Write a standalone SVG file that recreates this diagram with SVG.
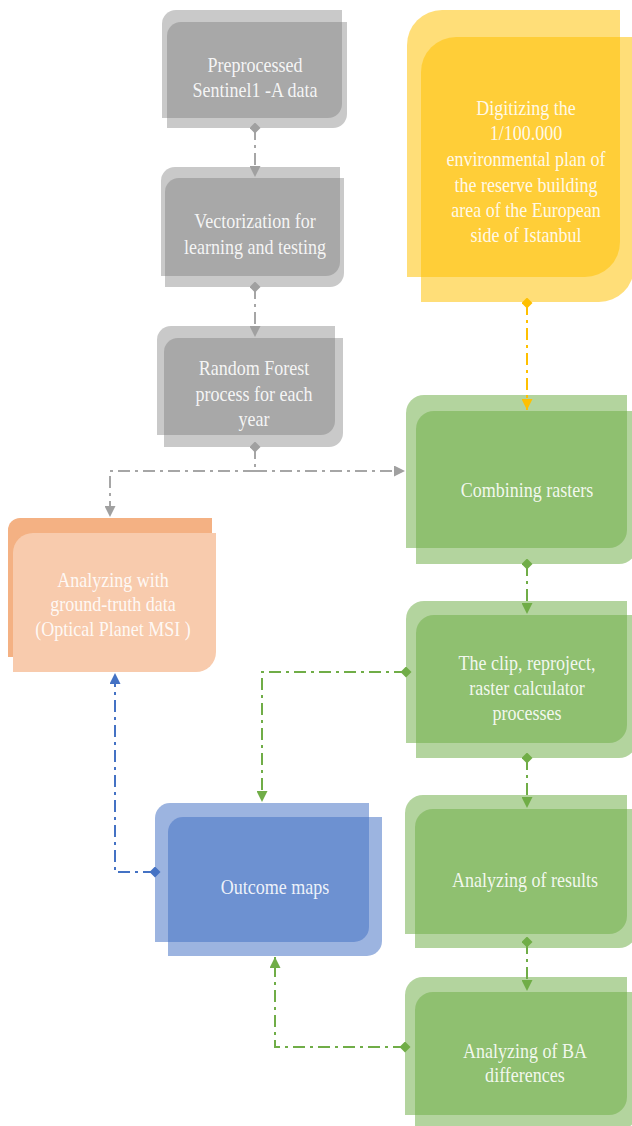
<svg xmlns="http://www.w3.org/2000/svg" width="632" height="1126" viewBox="0 0 632 1126">
<style>
.gray{fill:#787878;fill-opacity:0.4}
.green{fill:#70AD47;fill-opacity:0.53}
.blue{fill:#4472C4;fill-opacity:0.53}
.gold{fill:#FFC000;fill-opacity:0.53}
.orb{fill:#F4B183}
.orf{fill:#F8CBAD}
text{font-family:"Liberation Serif","Times New Roman",serif;font-size:22px;fill:#ffffff;fill-opacity:0.9;text-anchor:middle}
.c{fill:none;stroke-width:2;stroke-dasharray:12 5 3 5}
.cg{stroke:#a6a6a6}
.cgr{stroke:#70AD47}
.cb{stroke:#4472C4}
.cy{stroke:#FFC000}
</style>
<defs>
<marker id="ag" viewBox="0 0 10 10" refX="10" refY="5" markerWidth="11" markerHeight="11" markerUnits="userSpaceOnUse" orient="auto"><path d="M0,0 L10,5 L0,10 z" fill="#a0a0a0"/></marker>
<marker id="dg" viewBox="0 0 10 10" refX="5" refY="5" markerWidth="11" markerHeight="11" markerUnits="userSpaceOnUse" orient="auto"><path d="M0,5 L5,0 L10,5 L5,10 z" fill="#a0a0a0"/></marker>
<marker id="agr" viewBox="0 0 10 10" refX="10" refY="5" markerWidth="11" markerHeight="11" markerUnits="userSpaceOnUse" orient="auto"><path d="M0,0 L10,5 L0,10 z" fill="#70AD47"/></marker>
<marker id="dgr" viewBox="0 0 10 10" refX="5" refY="5" markerWidth="11" markerHeight="11" markerUnits="userSpaceOnUse" orient="auto"><path d="M0,5 L5,0 L10,5 L5,10 z" fill="#70AD47"/></marker>
<marker id="ab" viewBox="0 0 10 10" refX="10" refY="5" markerWidth="11" markerHeight="11" markerUnits="userSpaceOnUse" orient="auto"><path d="M0,0 L10,5 L0,10 z" fill="#4472C4"/></marker>
<marker id="db" viewBox="0 0 10 10" refX="5" refY="5" markerWidth="11" markerHeight="11" markerUnits="userSpaceOnUse" orient="auto"><path d="M0,5 L5,0 L10,5 L5,10 z" fill="#4472C4"/></marker>
<marker id="ay" viewBox="0 0 10 10" refX="10" refY="5" markerWidth="11" markerHeight="11" markerUnits="userSpaceOnUse" orient="auto"><path d="M0,0 L10,5 L0,10 z" fill="#FFC000"/></marker>
<marker id="dy" viewBox="0 0 10 10" refX="5" refY="5" markerWidth="11" markerHeight="11" markerUnits="userSpaceOnUse" orient="auto"><path d="M0,5 L5,0 L10,5 L5,10 z" fill="#FFC000"/></marker>
</defs>
<rect width="632" height="1126" fill="#ffffff"/>

<g id="n-preprocessed">
<path class="gray" d="M176,10 H342 V104 A14,14 0 0 1 328,118 H162 V24 A14,14 0 0 1 176,10 Z"/>
<path class="gray" d="M181,22 H347 V114 A14,14 0 0 1 333,128 H167 V36 A14,14 0 0 1 181,22 Z"/>
<g transform="translate(255,0) scale(0.82,1)"><text x="0" y="72">Preprocessed</text><text x="0" y="97">Sentinel1 -A data</text></g>
</g>

<g id="n-vectorization">
<path class="gray" d="M175,167 H340 V262 A14,14 0 0 1 326,276 H161 V181 A14,14 0 0 1 175,167 Z"/>
<path class="gray" d="M179,178 H344 V273 A14,14 0 0 1 330,287 H165 V192 A14,14 0 0 1 179,178 Z"/>
<g transform="translate(255,0) scale(0.82,1)"><text x="0" y="228">Vectorization for</text><text x="0" y="254">learning and testing</text></g>
</g>

<g id="n-randomforest">
<path class="gray" d="M171,326 H335 V421 A14,14 0 0 1 321,435 H157 V340 A14,14 0 0 1 171,326 Z"/>
<path class="gray" d="M178,338 H343 V433 A14,14 0 0 1 329,447 H164 V352 A14,14 0 0 1 178,338 Z"/>
<g transform="translate(254,0) scale(0.82,1)"><text x="0" y="375">Random Forest</text><text x="0" y="401">process for each</text><text x="0" y="426">year</text></g>
</g>

<g id="n-digitizing">
<path class="gold" d="M442,10 H620 V242 A35,35 0 0 1 585,277 H407 V45 A35,35 0 0 1 442,10 Z"/>
<path class="gold" d="M456,37 H634 V267 A35,35 0 0 1 599,302 H421 V72 A35,35 0 0 1 456,37 Z"/>
<g transform="translate(526,0) scale(0.82,1)"><text x="0" y="115">Digitizing the</text><text x="0" y="140">1/100.000</text><text x="0" y="166">environmental plan of</text><text x="0" y="192">the reserve building</text><text x="0" y="217">area of the European</text><text x="0" y="242">side of Istanbul</text></g>
</g>

<g id="n-combining">
<path class="green" d="M424,395 H627 V530 A18,18 0 0 1 609,548 H406 V413 A18,18 0 0 1 424,395 Z"/>
<path class="green" d="M434,411 H637 V546 A18,18 0 0 1 619,564 H416 V429 A18,18 0 0 1 434,411 Z"/>
<g transform="translate(527,0) scale(0.82,1)"><text x="0" y="497">Combining rasters</text></g>
</g>

<g id="n-groundtruth">
<path class="orb" d="M20,518 H212 V657 H8 V530 A12,12 0 0 1 20,518 Z"/>
<path class="orf" d="M33,533 H216 V652 A20,20 0 0 1 196,672 H13 V553 A20,20 0 0 1 33,533 Z"/>
<g transform="translate(113,0) scale(0.82,1)"><text x="0" y="587">Analyzing with</text><text x="0" y="611">ground-truth data</text><text x="0" y="636">(Optical Planet MSI )</text></g>
</g>

<g id="n-clip">
<path class="green" d="M424,601 H627 V725 A18,18 0 0 1 609,743 H406 V619 A18,18 0 0 1 424,601 Z"/>
<path class="green" d="M434,615 H637 V740 A18,18 0 0 1 619,758 H416 V633 A18,18 0 0 1 434,615 Z"/>
<g transform="translate(527,0) scale(0.82,1)"><text x="0" y="670">The clip, reproject,</text><text x="0" y="695">raster calculator</text><text x="0" y="720">processes</text></g>
</g>

<g id="n-outcome">
<path class="blue" d="M170,803 H369 V927 A15,15 0 0 1 354,942 H155 V818 A15,15 0 0 1 170,803 Z"/>
<path class="blue" d="M183,817 H382 V941 A15,15 0 0 1 367,956 H168 V832 A15,15 0 0 1 183,817 Z"/>
<g transform="translate(275,0) scale(0.82,1)"><text x="0" y="894">Outcome maps</text></g>
</g>

<g id="n-results">
<path class="green" d="M423,795 H627 V916 A18,18 0 0 1 609,934 H405 V813 A18,18 0 0 1 423,795 Z"/>
<path class="green" d="M433,809 H637 V930 A18,18 0 0 1 619,948 H415 V827 A18,18 0 0 1 433,809 Z"/>
<g transform="translate(525,0) scale(0.82,1)"><text x="0" y="887">Analyzing  of results</text></g>
</g>

<g id="n-ba">
<path class="green" d="M423,977 H627 V1097 A18,18 0 0 1 609,1115 H405 V995 A18,18 0 0 1 423,977 Z"/>
<path class="green" d="M433,992 H637 V1112 A18,18 0 0 1 619,1130 H415 V1010 A18,18 0 0 1 433,992 Z"/>
<g transform="translate(525,0) scale(0.82,1)"><text x="0" y="1058">Analyzing  of BA</text><text x="0" y="1082">differences</text></g>
</g>

<g id="connectors">
<path class="c cg" d="M255,128 V177" marker-start="url(#dg)" marker-end="url(#ag)"/>
<path class="c cg" d="M255,287 V337" marker-start="url(#dg)" marker-end="url(#ag)"/>
<path class="c cg" d="M255,447 V471" marker-start="url(#dg)"/>
<path class="c cg" d="M255,471 H110 V517" marker-end="url(#ag)"/>
<path class="c cg" d="M255,471 H405" marker-end="url(#ag)"/>
<path class="c cy" d="M527,303 V410" marker-start="url(#dy)" marker-end="url(#ay)"/>
<path class="c cgr" d="M527,564 V614" marker-start="url(#dgr)" marker-end="url(#agr)"/>
<path class="c cgr" d="M406,672 H262 V802" marker-start="url(#dgr)" marker-end="url(#agr)"/>
<path class="c cgr" d="M527,758 V808" marker-start="url(#dgr)" marker-end="url(#agr)"/>
<path class="c cgr" d="M527,942 V991" marker-start="url(#dgr)" marker-end="url(#agr)"/>
<path class="c cgr" d="M405,1047 H275 V957" marker-start="url(#dgr)" marker-end="url(#agr)"/>
<path class="c cb" d="M155,872 H115 V673" marker-start="url(#db)" marker-end="url(#ab)"/>
</g>
</svg>
